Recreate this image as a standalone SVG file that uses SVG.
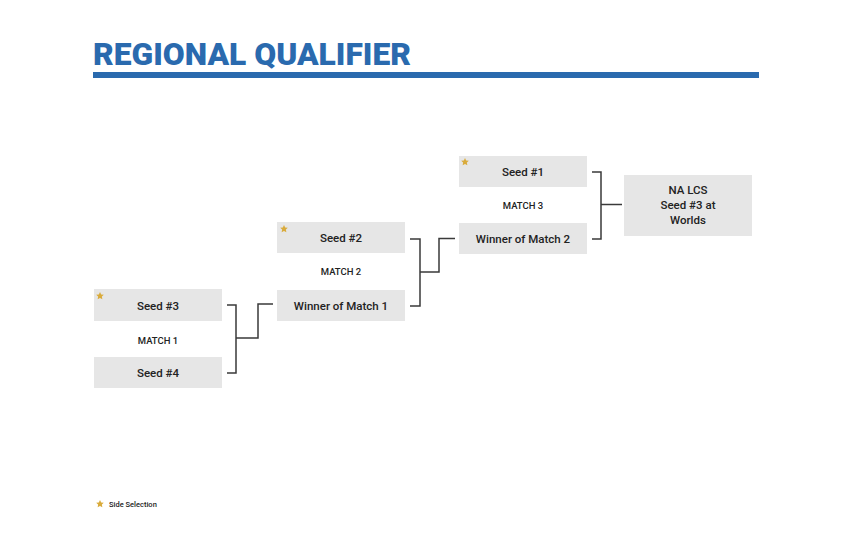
<svg xmlns="http://www.w3.org/2000/svg" width="850" height="549" viewBox="0 0 850 549">
<defs>
<style>
.box{fill:#e6e6e6}
.lbl{font-family:Roboto,"Liberation Sans",Arial,sans-serif;font-weight:500;font-size:11.5px;fill:#222;text-anchor:middle}
.m{font-family:Roboto,"Liberation Sans",Arial,sans-serif;font-weight:500;font-size:9.5px;fill:#222;text-anchor:middle}
.conn{fill:none;stroke:#3a3a3a;stroke-width:1.5}
.star{fill:#d9ab3c}
</style>
<path id="star" d="M0,-4 L1.18,-1.62 L3.8,-1.24 L1.9,0.62 L2.35,3.24 L0,2 L-2.35,3.24 L-1.9,0.62 L-3.8,-1.24 L-1.18,-1.62 Z"/>
</defs>
<rect width="850" height="549" fill="#ffffff"/>
<g id="title">
<text x="93" y="65" font-family="Roboto,'Liberation Sans',Arial,sans-serif" font-weight="900" font-size="31" fill="#2a6aae" textLength="318" lengthAdjust="spacingAndGlyphs">REGIONAL QUALIFIER</text>
<rect x="93" y="72" width="666" height="6" fill="#2a6aae"/>
</g>
<g id="connectors">
<path class="conn" d="M227,305 H236 V373 H227"/>
<path class="conn" d="M236,338 H258 V304 H273"/>
<path class="conn" d="M410,239 H420 V306 H410"/>
<path class="conn" d="M420,272 H439 V238.5 H455"/>
<path class="conn" d="M592,172 H601 V239 H592"/>
<path class="conn" d="M601,204.5 H622"/>
</g>
<g id="seed3">
<rect class="box" x="94" y="289" width="128" height="32"/>
<use href="#star" class="star" x="100" y="296"/>
<text class="lbl" x="158" y="309.5">Seed #3</text>
</g>
<g id="match1"><text class="m" x="158" y="344">MATCH 1</text></g>
<g id="seed4">
<rect class="box" x="94" y="357" width="128" height="31"/>
<text class="lbl" x="158" y="377">Seed #4</text>
</g>
<g id="seed2">
<rect class="box" x="277" y="222" width="128" height="31"/>
<use href="#star" class="star" x="284" y="229"/>
<text class="lbl" x="341" y="242">Seed #2</text>
</g>
<g id="match2"><text class="m" x="341" y="275">MATCH 2</text></g>
<g id="winner1">
<rect class="box" x="277" y="290" width="128" height="31"/>
<text class="lbl" x="341" y="310">Winner of Match 1</text>
</g>
<g id="seed1">
<rect class="box" x="459" y="156" width="128" height="31"/>
<use href="#star" class="star" x="465" y="162"/>
<text class="lbl" x="523" y="176">Seed #1</text>
</g>
<g id="match3"><text class="m" x="523" y="209">MATCH 3</text></g>
<g id="winner2">
<rect class="box" x="459" y="223" width="128" height="31"/>
<text class="lbl" x="523" y="243">Winner of Match 2</text>
</g>
<g id="nalcs">
<rect class="box" x="624" y="175" width="128" height="61"/>
<text class="lbl" x="688" y="194">NA LCS</text>
<text class="lbl" x="688" y="209">Seed #3 at</text>
<text class="lbl" x="688" y="224">Worlds</text>
</g>
<g id="legend">
<use href="#star" class="star" x="100" y="504"/>
<text x="109" y="506.5" font-family="Roboto,'Liberation Sans',Arial,sans-serif" font-weight="500" font-size="7.5" fill="#222">Side Selection</text>
</g>
</svg>
